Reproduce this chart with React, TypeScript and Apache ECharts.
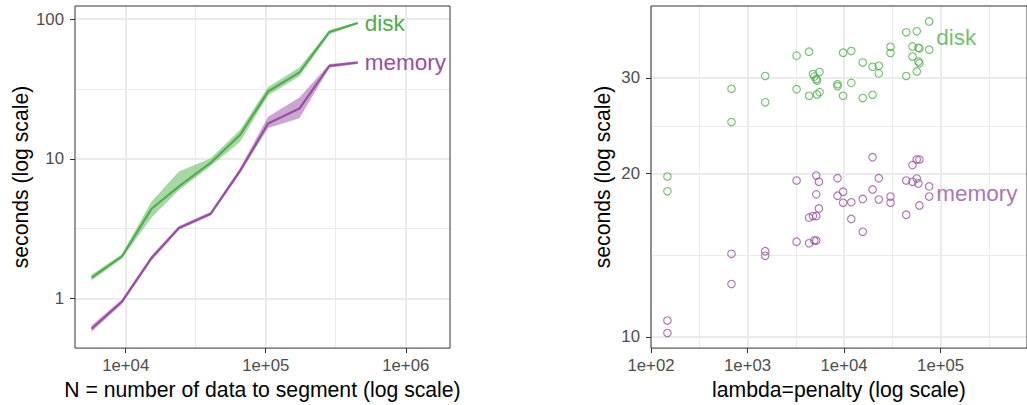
import React, { useEffect, useRef } from 'react';
import * as echarts from 'echarts';

const GREEN = '#4DAF4A';
const PURPLE = '#984EA3';
const FONT = "'Liberation Sans', Arial, Helvetica, sans-serif";

// ---- Left panel: time vs N (log-log) ----
const dataSizes = [5700, 9400, 15300, 24000, 40500, 65500, 104000, 174000, 285000, 454000];
const diskMedian = [1.41, 2.0, 4.39, 6.34, 9.38, 14.8, 30.3, 41.6, 80.9, 93.7];
const diskLower = [1.34, 1.93, 3.8, 5.95, 8.9, 13.2, 28.4, 39.0, 77.8, 92.0];
const diskUpper = [1.48, 2.07, 4.95, 8.1, 10.1, 16.1, 32.6, 45.1, 83.2, 95.5];
const memoryMedian = [0.608, 0.95, 1.95, 3.2, 4.05, 8.2, 17.9, 22.9, 46.3, 48.9];
const memoryLower = [0.575, 0.915, 1.87, 3.1, 3.93, 7.85, 16.6, 19.5, 44.8, 47.8];
const memoryUpper = [0.64, 0.985, 2.03, 3.3, 4.17, 8.55, 20.0, 27.5, 47.8, 50.0];

// ---- Right panel: time vs penalty ----
const penaltyDisk = [148, 148, 682, 682, 1524, 1524, 3222, 3222, 4336, 4336, 4760, 4917, 5152, 5236, 5572, 5236, 5572, 8557, 8557, 9770, 9770, 11880, 11880, 15610, 15610, 19720, 19720, 22870, 22870, 30280, 30280, 44040, 44040, 51130, 51130, 56600, 56600, 58880, 60290, 58880, 60290, 76100, 76100];
const secondsDisk = [19.75, 18.55, 28.65, 24.89, 30.25, 27.06, 32.98, 28.61, 33.54, 27.82, 30.51, 30.17, 29.88, 29.67, 30.76, 27.98, 28.25, 29.21, 28.97, 33.4, 27.82, 33.63, 29.38, 32.03, 27.55, 31.46, 27.94, 31.59, 30.59, 34.24, 33.35, 36.41, 30.25, 34.29, 32.85, 36.56, 30.84, 34.1, 34.01, 32.17, 31.94, 38.13, 33.82];
const penaltyMemory = [148, 148, 682, 682, 1524, 1524, 3222, 3222, 4336, 4336, 4760, 4917, 5152, 5152, 5152, 5152, 5483, 5483, 8557, 8557, 9770, 9770, 11880, 11880, 15610, 15610, 19720, 19720, 22870, 22870, 30280, 30280, 44040, 44040, 51130, 51130, 56600, 60290, 56600, 58880, 60290, 76100, 76100];
const secondsMemory = [10.72, 10.17, 14.23, 12.52, 14.39, 14.11, 19.42, 14.98, 16.59, 14.88, 16.7, 15.05, 15.05, 16.7, 19.83, 18.31, 19.31, 17.25, 19.61, 18.21, 18.52, 17.67, 17.71, 16.5, 17.96, 15.62, 21.44, 18.7, 19.61, 17.91, 18.14, 17.67, 19.42, 16.8, 20.73, 19.31, 21.23, 21.23, 19.58, 19.18, 17.47, 18.94, 18.14];

// direct-label anchors (data coordinates) for the right panel
const diskLabelAt = [89000, 35.6];
const memoryLabelAt = [89000, 18.4];

// ---- Breaks ----
const leftXBreaks = [1e4, 1e5, 1e6];
const leftXMinor = [31623, 316228];
const leftYBreaks = [1, 10, 100];
const leftYMinor = [3.1623, 31.623];
const rightXBreaks = [100, 1000, 10000, 100000];
const rightXMinor = [316.23, 3162.3, 31623, 316228];
const rightYBreaks = [10, 20, 30];
const rightYMinor = [14.142, 24.495];

const sciFmt = (v: number) => {
  const e = Math.round(Math.log10(v));
  return '1e+' + String(e).padStart(2, '0');
};
const intFmt = (v: number) => String(Math.round(v));

function majorAxis(gridIndex: number, min: number, max: number, breaks: number[], fmt: any, name: string, nameGap: number, isX: boolean) {
  return {
    type: 'log',
    logBase: 10,
    gridIndex,
    min,
    max,
    axisLine: { show: false },
    axisTick: { show: true, length: 5, lineStyle: { color: '#333333', width: 1 }, customValues: breaks },
    axisLabel: {
      show: true,
      customValues: breaks,
      formatter: fmt,
      color: '#4D4D4D',
      fontSize: 16.8,
      fontFamily: FONT,
      margin: isX ? 9 : 11,
    },
    splitLine: { show: true, lineStyle: { color: '#EBEBEB', width: 2 } },
    minorTick: { show: false },
    minorSplitLine: { show: false },
    name,
    nameLocation: 'middle',
    nameGap,
    nameTextStyle: { color: '#000000', fontSize: 21.2, fontFamily: FONT },
  };
}

function minorAxis(gridIndex: number, min: number, max: number, minors: number[]) {
  return {
    type: 'log',
    logBase: 10,
    gridIndex,
    min,
    max,
    axisLine: { show: false },
    axisTick: { show: false, customValues: minors },
    axisLabel: { show: false, customValues: minors },
    splitLine: { show: true, lineStyle: { color: '#EBEBEB', width: 1 } },
    minorTick: { show: false },
    minorSplitLine: { show: false },
  };
}

function band(lower: number[], upper: number[], color: string) {
  return {
    type: 'custom',
    xAxisIndex: 0,
    yAxisIndex: 0,
    silent: true,
    z: 1,
    data: dataSizes.map((n, i) => [n, lower[i], upper[i]]),
    encode: { x: 0, y: [1, 2] },
    renderItem: (params: any, api: any) => {
      if (params.dataIndex !== 0) return null;
      const pts: number[][] = [];
      for (let i = 0; i < dataSizes.length; i++) pts.push(api.coord([dataSizes[i], lower[i]]));
      for (let i = dataSizes.length - 1; i >= 0; i--) pts.push(api.coord([dataSizes[i], upper[i]]));
      return { type: 'polygon', shape: { points: pts }, style: { fill: color, opacity: 0.5 } };
    },
  };
}

function medianLine(values: number[], color: string, label: string) {
  return {
    type: 'line',
    xAxisIndex: 0,
    yAxisIndex: 0,
    z: 2,
    symbol: 'none',
    showSymbol: false,
    silent: true,
    data: dataSizes.map((n, i) => [n, values[i]]),
    lineStyle: { color, width: 2.2 },
    itemStyle: { color },
    endLabel: { show: true, formatter: label, color, fontSize: 22.5, fontFamily: FONT, distance: 7 },
  };
}

function points(xs: number[], ys: number[], color: string) {
  return {
    type: 'scatter',
    xAxisIndex: 2,
    yAxisIndex: 2,
    symbol: 'circle',
    symbolSize: 7.5,
    silent: true,
    data: xs.map((x, i) => [x, ys[i]]),
    itemStyle: { color: 'rgba(0,0,0,0)', borderColor: color, borderWidth: 1.1 },
  };
}

function directLabel(at: number[], text: string, color: string) {
  return {
    type: 'scatter',
    xAxisIndex: 2,
    yAxisIndex: 2,
    symbolSize: 1,
    silent: true,
    data: [at],
    itemStyle: { color: 'rgba(0,0,0,0)' },
    label: { show: true, position: 'right', distance: 0, formatter: text, color, fontSize: 22.5, fontFamily: FONT },
  };
}

const L_X = [4345, 2070000];
const L_Y = [0.4416, 124.1];
const R_X = [100, 785000];
const R_Y = [9.539, 40.71];

export default function App() {
  const ref = useRef<HTMLDivElement>(null);
  useEffect(() => {
    if (!ref.current) return;
    const chart = echarts.init(ref.current, null, { renderer: 'svg' });
    chart.setOption({
      animation: false,
      backgroundColor: '#ffffff',
      textStyle: { fontFamily: FONT },
      grid: [
        { left: 75, top: 6, width: 375, height: 347, show: true, borderColor: '#333333', borderWidth: 1, backgroundColor: 'rgba(0,0,0,0)', z: 5 },
        { left: 651, top: 6, width: 383, height: 347, show: true, borderColor: '#333333', borderWidth: 1, backgroundColor: 'rgba(0,0,0,0)', z: 5 },
      ],
      xAxis: [
        majorAxis(0, L_X[0], L_X[1], leftXBreaks, sciFmt, 'N = number of data to segment (log scale)', 29, true),
        minorAxis(0, L_X[0], L_X[1], leftXMinor),
        majorAxis(1, R_X[0], R_X[1], rightXBreaks, sciFmt, 'lambda=penalty (log scale)', 29, true),
        minorAxis(1, R_X[0], R_X[1], rightXMinor),
      ],
      yAxis: [
        majorAxis(0, L_Y[0], L_Y[1], leftYBreaks, intFmt, 'seconds (log scale)', 44, false),
        minorAxis(0, L_Y[0], L_Y[1], leftYMinor),
        majorAxis(1, R_Y[0], R_Y[1], rightYBreaks, intFmt, 'seconds (log scale)', 38, false),
        minorAxis(1, R_Y[0], R_Y[1], rightYMinor),
      ],
      series: [
        band(diskLower, diskUpper, GREEN),
        band(memoryLower, memoryUpper, PURPLE),
        medianLine(diskMedian, GREEN, 'disk'),
        medianLine(memoryMedian, PURPLE, 'memory'),
        points(penaltyDisk, secondsDisk, GREEN),
        points(penaltyMemory, secondsMemory, PURPLE),
        directLabel(diskLabelAt, 'disk', GREEN),
        directLabel(memoryLabelAt, 'memory', PURPLE),
      ],
    });
    return () => chart.dispose();
  }, []);
  return <div ref={ref} style={{ position: 'absolute', left: 0, top: 0, width: 1027, height: 405 }} />;
}
